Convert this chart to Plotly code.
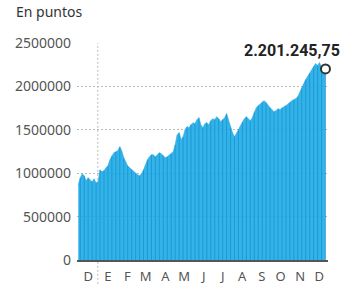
import pandas as pd
import plotly.graph_objects as go

# Index level in points (sampled roughly every 3 days, Dec 2023 - Dec 2024)
values = [
    866000, 946900, 993000, 970000, 912200, 946900, 923800, 900700, 935300, 889100,
    900700, 1039200, 1016100, 1027700, 1062300, 1085400, 1154700, 1200900, 1235500, 1247100,
    1258600, 1304800, 1258600, 1177800, 1120100, 1085400, 1062300, 1039200, 1016100, 993000,
    981500, 970000, 993000, 1039200, 1097000, 1154700, 1189300, 1212400, 1212400, 1189300,
    1212400, 1235500, 1224000, 1200900, 1177800, 1189300, 1212400, 1224000, 1247100, 1327900,
    1443400, 1466500, 1385600, 1420300, 1501100, 1535800, 1524200, 1558800, 1581900, 1570400,
    1616600, 1639700, 1558800, 1524200, 1570400, 1581900, 1558800, 1605000, 1628100, 1616600,
    1651200, 1628100, 1593500, 1616600, 1639700, 1685900, 1616600, 1524200, 1466500, 1420300,
    1454900, 1501100, 1547300, 1593500, 1628100, 1651200, 1628100, 1605000, 1639700, 1709000,
    1755100, 1778200, 1801300, 1824400, 1836000, 1812900, 1778200, 1755100, 1732100, 1709000,
    1720500, 1743600, 1732100, 1755100, 1766700, 1778200, 1801300, 1812900, 1836000, 1847500,
    1859100, 1882200, 1939900, 1986100, 2032300, 2078500, 2113100, 2147700, 2193900, 2228600,
    2263200, 2240100, 2274800, 2217000, 2228600, 2201245.75,
]
dates = pd.date_range("2023-12-01", "2024-12-27", periods=len(values))

month_labels = ["D", "E", "F", "M", "A", "M", "J", "J", "A", "S", "O", "N", "D"]
month_ticks = pd.date_range("2023-12-01", periods=13, freq="MS") + pd.Timedelta(days=16)
y_ticks = [0, 500000, 1000000, 1500000, 2000000, 2500000]
last_label = "2.201.245,75"
title = "En puntos"

fill = "rgba(22,168,230,0.88)"
stripe = "rgba(10,125,185,0.6)"

fig = go.Figure()
fig.add_trace(go.Scatter(
    x=dates, y=values, mode="lines", line=dict(width=0.6, color="#2aabe3"),
    fill="tozeroy", fillcolor=fill, hoverinfo="skip", showlegend=False,
))

# weekly stripes: vertical lines from 0 up to the series value
sx, sy = [], []
for d, v in list(zip(dates, values))[1::2]:
    sx += [d, d, None]
    sy += [0, v, None]
fig.add_trace(go.Scatter(
    x=sx, y=sy, mode="lines", line=dict(width=0.8, color=stripe),
    hoverinfo="skip", showlegend=False,
))

fig.add_trace(go.Scatter(
    x=[dates[-1]], y=[values[-1]], mode="markers",
    marker=dict(size=9, color="white", line=dict(width=2, color="#333333")),
    cliponaxis=False, showlegend=False, hoverinfo="skip",
))

fig.add_annotation(
    x=dates[-1], y=values[-1], text=last_label, showarrow=False,
    xanchor="right", yanchor="bottom", xshift=17, yshift=7,
    font=dict(family="Roboto", size=16, color="#222222", weight="bold"),
)

fig.add_annotation(
    x=0, y=1, xref="paper", yref="paper", text=title, showarrow=False,
    xanchor="left", yanchor="bottom", xshift=-63, yshift=20,
    font=dict(family="Noto Sans", size=14, color="#333333"),
)

# start-of-year reference line
fig.add_shape(
    type="line", x0="2024-01-01", x1="2024-01-01", xref="x", yref="paper",
    y0=-0.11, y1=1, line=dict(color="#bbbbbb", width=1, dash="2px,2px"), layer="below",
)

fig.update_layout(
    width=350, height=284,
    margin=dict(l=77, r=22, t=43, b=24),
    paper_bgcolor="white", plot_bgcolor="white",
    font=dict(family="Noto Sans", color="#555555"),
)
fig.update_xaxes(
    type="date", range=["2023-11-29", "2024-12-31"],
    tickvals=month_ticks, ticktext=month_labels, ticks="",
    showgrid=False, zeroline=False, automargin=False,
    showline=True, linecolor="#555555", linewidth=2,
    tickfont=dict(size=13, color="#555555"), ticklabelstandoff=3,
    layer="above traces",
)
fig.update_yaxes(
    range=[0, 2500000], tickvals=y_ticks, tickformat="d",
    showgrid=True, gridcolor="#bbbbbb", griddash="2px,2px", gridwidth=1,
    zeroline=False, showline=False, ticks="", ticklabelstandoff=5,
    automargin=False, tickfont=dict(size=14, color="#555555"),
)

fig.write_html("out.html", config={"displayModeBar": False},
               post_script="document.body.style.margin='0';")
